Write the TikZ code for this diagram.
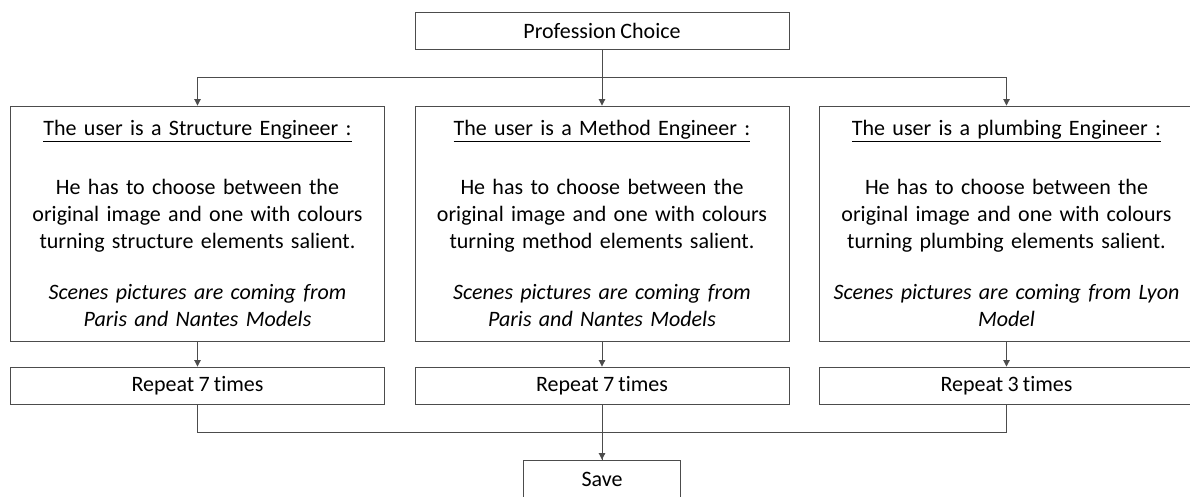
\documentclass[tikz,border=0pt]{standalone}
\usepackage{fontspec}
\setmainfont{Carlito}[Ligatures={NoCommon}, WordSpace=0.85]
\usetikzlibrary{arrows.meta}
\tikzset{
  box/.style={draw=black!70, line width=0.9pt, minimum width=374pt, inner sep=0pt, align=center,
    font=\fontsize{22}{27}\selectfont, text=black},
  bigbox/.style={box, minimum height=235pt, text width=370pt},
  smallbox/.style={box, minimum height=37pt},
  conn/.style={draw=black!70, line width=0.9pt},
  arr/.style={conn, -{Triangle[length=6.5pt,width=6.5pt]}}
}
\begin{document}
\begin{tikzpicture}[x=1pt,y=-1pt]
\useasboundingbox (0,0) rectangle (1190,496);
\node[smallbox] (pc) at (602,30.5) {Profession Choice};
\node[bigbox] (l) at (197.5,223.5) {\underline{The user is a Structure Engineer :}\\[32pt]
He has to choose between the\\original image and one with colours\\turning structure elements salient.\\[24pt]
\textit{Scenes pictures are coming from}\\\textit{Paris and Nantes Models}\\[-4pt]};
\node[bigbox] (m) at (602,223.5) {\underline{The user is a Method Engineer :}\\[32pt]
He has to choose between the\\original image and one with colours\\turning method elements salient.\\[24pt]
\textit{Scenes pictures are coming from}\\\textit{Paris and Nantes Models}\\[-4pt]};
\node[bigbox] (r) at (1006.5,223.5) {\underline{The user is a plumbing Engineer :}\\[32pt]
He has to choose between the\\original image and one with colours\\turning plumbing elements salient.\\[24pt]
\textit{Scenes pictures are coming from Lyon}\\\textit{Model}\\[-4pt]};
\node[smallbox] (rl) at (197.5,385.5) {Repeat 7 times};
\node[smallbox] (rm) at (602,385.5) {Repeat 7 times};
\node[smallbox] (rr) at (1006.5,385.5) {Repeat 3 times};
\node[smallbox, minimum width=157pt, minimum height=38pt] (save) at (602,479) {Save};
\draw[arr] (pc.south) -- (m.north);
\draw[arr] (pc.south) -- ++(0,28) -| (l.north);
\draw[arr] (pc.south) -- ++(0,28) -| (r.north);
\draw[arr] (l.south) -- (rl.north);
\draw[arr] (m.south) -- (rm.north);
\draw[arr] (r.south) -- (rr.north);
\draw[arr] (rm.south) -- (save.north);
\draw[conn] (rl.south) -- ++(0,28) -| (save.north);
\draw[conn] (rr.south) -- ++(0,28) -| (save.north);
\end{tikzpicture}
\end{document}
